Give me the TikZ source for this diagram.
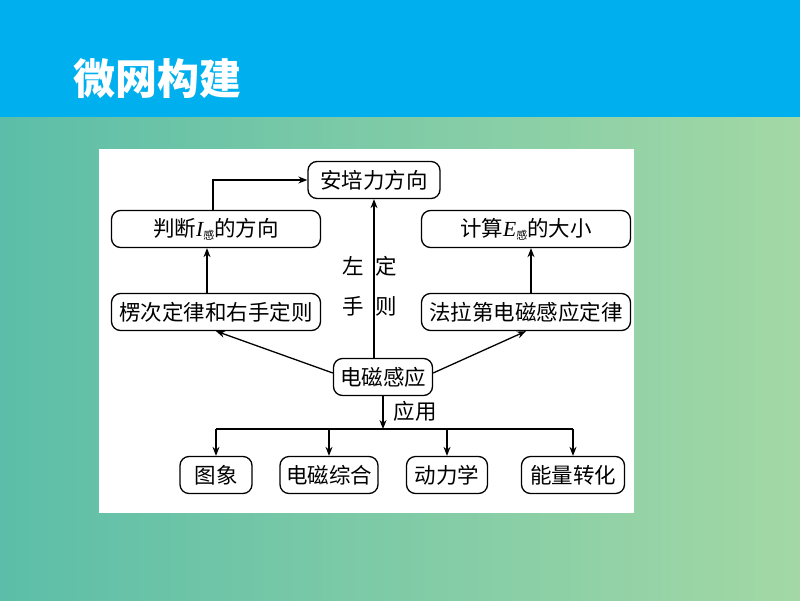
\documentclass[tikz,border=0pt]{standalone}
\usepackage{fontspec}
\newfontfamily\cjk{Noto Sans CJK SC}
\newfontfamily\latin{Liberation Serif}
\usetikzlibrary{arrows.meta}
\definecolor{banner}{RGB}{0,176,238}
\definecolor{tealL}{RGB}{92,190,168}
\definecolor{greenR}{RGB}{163,216,165}
\newcommand{\gansub}{\raisebox{-3pt}{\fontsize{11}{11}\selectfont 感}}
\tikzset{
  box/.style={draw, rounded corners=9pt, line width=1.3pt, minimum height=37pt,
    inner xsep=2pt, fill=white, font=\cjk\fontsize{21.5}{24}\selectfont},
  conn/.style={-{Stealth[length=9pt,width=7pt]}, line width=1.3pt},
  lab/.style={font=\cjk\fontsize{21.5}{24}\selectfont}
}
\begin{document}
\begin{tikzpicture}[x=1pt,y=-1pt]
  \useasboundingbox (0,0) rectangle (800,600);
  % background
  \shade[left color=tealL, right color=greenR] (0,117) rectangle (800,600);
  \fill[banner] (0,0) rectangle (800,117);
  \node[anchor=west, text=white, font=\cjk\bfseries\fontsize{42}{46}\selectfont] (title) at (70,79) {微网构建};
  \fill[white] (99,149) rectangle (634,513);
  % nodes
  \node[box, minimum width=132pt] (force) at (374,180) {安培力方向};
  \node[box, minimum width=209pt] (dir) at (216,229) {判断{\latin\itshape I}\gansub 的方向};
  \node[box, minimum width=209pt] (emf) at (526,229) {计算{\latin\itshape E}\gansub 的大小};
  \node[box, minimum width=209pt] (lenz) at (216,312) {楞次定律和右手定则};
  \node[box, minimum width=209pt] (faraday) at (526,312) {法拉第电磁感应定律};
  \node[box, minimum width=99pt] (induct) at (383,377) {电磁感应};
  \node[box, minimum width=72pt] (graph) at (216,475) {图象};
  \node[box, minimum width=98pt] (combo) at (329,475) {电磁综合};
  \node[box, minimum width=81pt] (dyn) at (447,475) {动力学};
  \node[box, minimum width=103pt] (energy) at (573,475) {能量转化};
  % labels
  \node[lab] (l1) at (353,266) {左};
  \node[lab] (l2) at (353,306) {手};
  \node[lab] (l3) at (386,266) {定};
  \node[lab] (l4) at (386,306) {则};
  \node[lab] (use) at (415,411) {应用};
  \coordinate (split) at (383,429);
  % connectors
  \draw[conn] (induct.north -| force) -- (force.south);
  \draw[conn] (induct.west) ++(0,-4) -- (lenz.south);
  \draw[conn] (induct.east) ++(0,-4) -- (faraday.south);
  \draw[conn] ([xshift=-9pt]lenz.north) -- ([xshift=-9pt]dir.south);
  \draw[conn] ([xshift=5pt]faraday.north) -- ([xshift=5pt]emf.south);
  \draw[conn] ([xshift=-3pt]dir.north) |- (force.west);
  \draw[conn] (induct.south) -- (split);
  \draw[line width=1.3pt] (split -| graph) -- (split -| energy);
  \foreach \n in {graph,combo,dyn,energy}
    \draw[conn] (split -| \n) -- (\n.north);
\end{tikzpicture}
\end{document}
